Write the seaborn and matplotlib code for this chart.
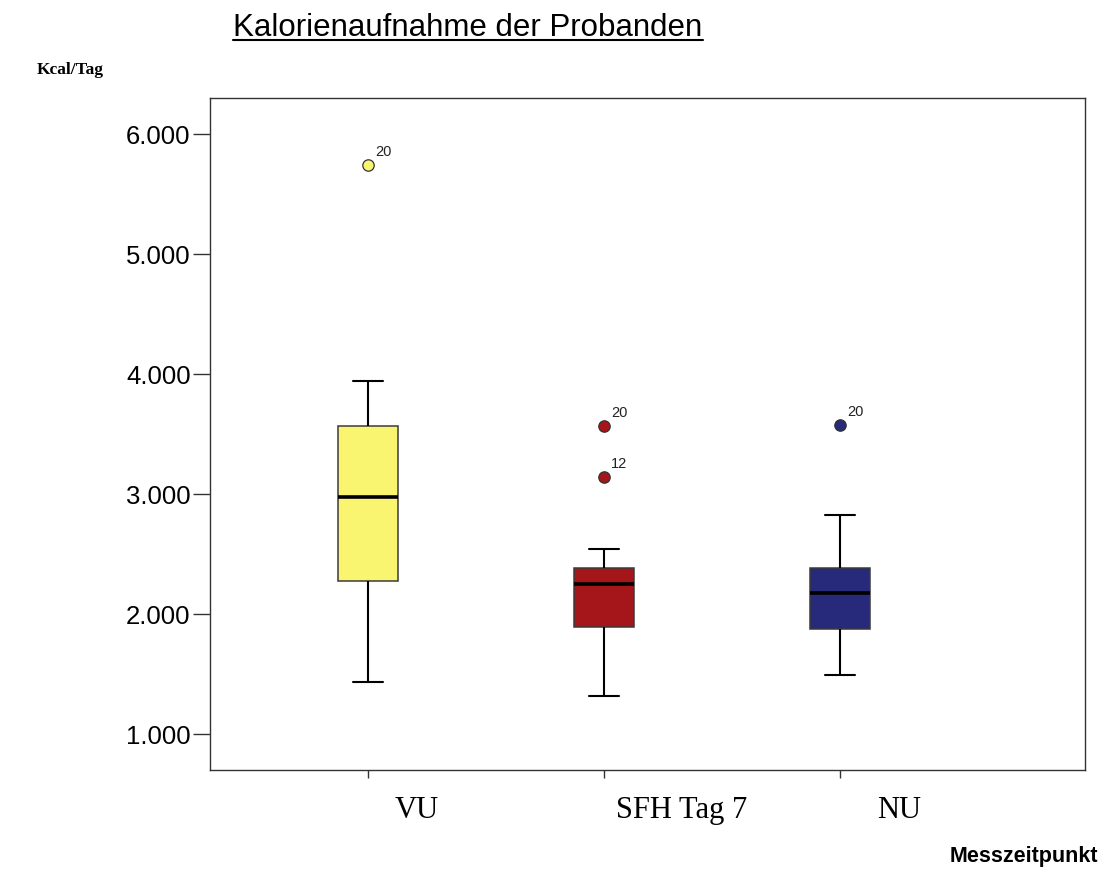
import numpy as np
import pandas as pd
import matplotlib
matplotlib.use("Agg")
import matplotlib.pyplot as plt
import seaborn as sns
from matplotlib.transforms import ScaledTranslation
from matplotlib.lines import Line2D

# ---------------- data ----------------
groups = ["VU", "SFH Tag 7", "NU"]
kcal_vu = [1433, 1900, 2275, 2600, 2975, 3300, 3569, 3944, 5742]
kcal_sfh = [1319, 1600, 1750, 1897, 2050, 2150, 2253, 2300, 2350, 2389, 2544, 3142, 3569]
kcal_nu = [1492, 1700, 1875, 2050, 2181, 2300, 2383, 2828, 3581]
outlier_groups = ["VU", "SFH Tag 7", "SFH Tag 7", "NU"]
outlier_values = [5742, 3569, 3142, 3581]
outlier_ids = ["20", "20", "12", "20"]
box_colors = ["#F9F570", "#A5161B", "#27297A"]
ytick_values = [1000, 2000, 3000, 4000, 5000, 6000]
ytick_labels = ["1.000", "2.000", "3.000", "4.000", "5.000", "6.000"]
title = "Kalorienaufnahme der Probanden"
ylabel = "Kcal/Tag"
xlabel = "Messzeitpunkt"

df = pd.DataFrame({
    "group": ["VU"] * len(kcal_vu) + ["SFH Tag 7"] * len(kcal_sfh) + ["NU"] * len(kcal_nu),
    "kcal": kcal_vu + kcal_sfh + kcal_nu,
})

sns.set_style("white")
plt.rcParams["font.family"] = ["Liberation Sans", "DejaVu Sans"]
plt.rcParams["text.color"] = "black"
plt.rcParams["xtick.labelcolor"] = "black"
plt.rcParams["ytick.labelcolor"] = "black"

W, H = 1109, 872
fig = plt.figure(figsize=(W / 100, H / 100), dpi=100)
ax = fig.add_axes([210 / W, (H - 770) / H, 875 / W, 672 / H])

sns.boxplot(
    data=df, x="group", y="kcal", hue="group", order=groups, hue_order=groups,
    palette=box_colors, saturation=1, width=0.254, whis=1.5, legend=False,
    linecolor="#3a3a3a", linewidth=1.1, ax=ax,
    medianprops=dict(color="black", linewidth=2.6),
    whiskerprops=dict(color="black", linewidth=1.5),
    capprops=dict(color="black", linewidth=1.5),
    flierprops=dict(marker="o", markersize=8.2, markeredgecolor="#333333",
                    markeredgewidth=0.9),
)

# colour the outlier dots like their box
for line in ax.lines:
    xd = np.asarray(line.get_xdata(), dtype=float)
    if line.get_marker() == "o" and xd.size > 0:
        idx = int(round(xd.mean()))
        line.set_markerfacecolor(box_colors[idx])
        line.set_markeredgecolor("#333333")

# outlier case labels
for g, v, lab in zip(outlier_groups, outlier_values, outlier_ids):
    ax.annotate(lab, (groups.index(g), v), xytext=(5.2, 6.5), textcoords="offset points",
                ha="left", va="baseline", fontsize=10.5, color="#222222")

ax.set_xlim(-0.669, 3.038)
ax.set_ylim(702.5, 6302)
ax.set_yticks(ytick_values)
ax.set_yticklabels(ytick_labels, fontsize=18.5, family="Liberation Sans", color="black")
ax.set_xticks(range(len(groups)))
ax.set_xticklabels(groups, fontsize=22, family="Liberation Serif", ha="left", color="black")
ax.set_xlabel("")
ax.set_ylabel("")

ax.tick_params(axis="y", direction="out", length=12.5, width=1.0, color="#333333", pad=1.5,
               left=True)
ax.tick_params(axis="x", direction="out", length=5.5, width=1.0, color="#333333", pad=13.5,
               bottom=True)
x_offsets_px = [27, 12, 37]
for lbl, dx in zip(ax.get_xticklabels(), x_offsets_px):
    lbl.set_transform(lbl.get_transform() + ScaledTranslation(dx / 100, 0, fig.dpi_scale_trans))

for sp in ax.spines.values():
    sp.set_visible(True)
    sp.set_color("#333333")
    sp.set_linewidth(1.0)

# title with underline
t = fig.text(468 / W, 1 - 36 / H, title, ha="center", va="baseline", fontsize=22.5,
             family="Liberation Sans", color="black")
fig.canvas.draw()
bb = t.get_window_extent(fig.canvas.get_renderer())
fig.add_artist(Line2D([bb.x0 / W, bb.x1 / W], [1 - 40.5 / H, 1 - 40.5 / H], color="black",
                      linewidth=1.5, transform=fig.transFigure))

fig.text(37 / W, 1 - 70 / H, ylabel, ha="left", va="center", fontsize=12.5,
         fontweight="bold", family="Liberation Serif", color="black")
fig.text(1098 / W, 1 - 856 / H, xlabel, ha="right", va="center", fontsize=15.5,
         fontweight="bold", family="Liberation Sans", color="black")

fig.savefig("out.png", dpi=100)
